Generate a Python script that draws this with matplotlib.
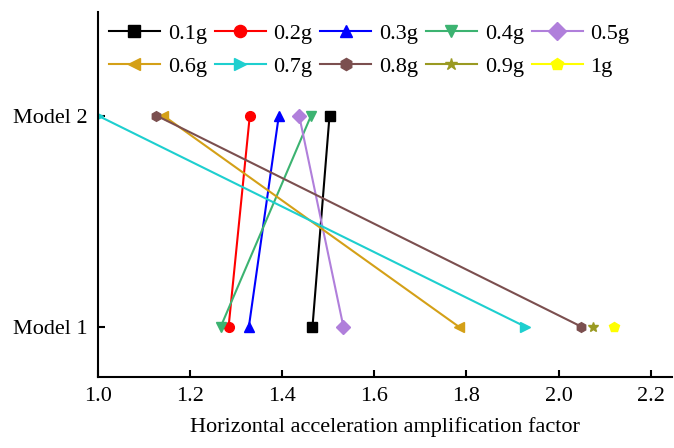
import matplotlib
matplotlib.use('Agg')
import matplotlib.pyplot as plt

models = ['Model 1', 'Model 2']
levels = ['0.1g', '0.2g', '0.3g', '0.4g', '0.5g', '0.6g', '0.7g', '0.8g', '0.9g', '1g']

# amplification factor at Model 1 / Model 2 (None = not shown)
model1 = [1.466, 1.284, 1.328, 1.267, 1.533, 1.783, 1.927, 2.049, 2.075, 2.121]
model2 = [1.503, 1.330, 1.393, 1.463, 1.437, 1.142, 1.000, 1.127, None, None]

colors = ['#000000', '#FF0000', '#0000FF', '#3CB371', '#B07FDB',
          '#D4A017', '#1ECFCF', '#7B4F4F', '#9A9A22', '#FFFF00']
markers = ['s', 'o', '^', 'v', 'D', '<', '>', 'h', '*', 'p']

plt.rcParams['font.family'] = ['Liberation Serif', 'DejaVu Serif']

fig = plt.figure(figsize=(6.74, 4.48), dpi=100)
ax = fig.add_axes([0.145, 0.158, 0.852, 0.815])

for i, lev in enumerate(levels):
    xs, ys = [], []
    for y, v in zip([1, 2], [model1[i], model2[i]]):
        if v is not None:
            xs.append(v)
            ys.append(y)
    ax.plot(xs, ys, color=colors[i], marker=markers[i], markersize=7,
            linewidth=1.5, label=lev)

ax.set_xlim(1.0, 2.246)
ax.set_ylim(0.76, 2.49)
ax.set_yticks([1, 2])
ax.set_yticklabels(models)
ax.set_xticks([1.0, 1.2, 1.4, 1.6, 1.8, 2.0, 2.2])
ax.set_xticklabels(['1.0', '1.2', '1.4', '1.6', '1.8', '2.0', '2.2'])
ax.set_xlabel('Horizontal acceleration amplification factor', fontsize=16, labelpad=8)

ax.spines['top'].set_visible(False)
ax.spines['right'].set_visible(False)
ax.spines['left'].set_linewidth(1.5)
ax.spines['bottom'].set_linewidth(1.5)
ax.tick_params(direction='in', labelsize=16, width=1.5, length=5, pad=7)

# legend is filled row by row in the reference
handles, labels = ax.get_legend_handles_labels()
order = [0, 5, 1, 6, 2, 7, 3, 8, 4, 9]
ax.legend([handles[k] for k in order], [labels[k] for k in order],
          ncol=5, loc='upper left', bbox_to_anchor=(0.0, 1.0), frameon=False,
          fontsize=16, handlelength=2.3, columnspacing=0.35, handletextpad=0.35,
          labelspacing=0.55, borderaxespad=0.1, borderpad=0.4, markerscale=1.25)

fig.savefig('out.png')
